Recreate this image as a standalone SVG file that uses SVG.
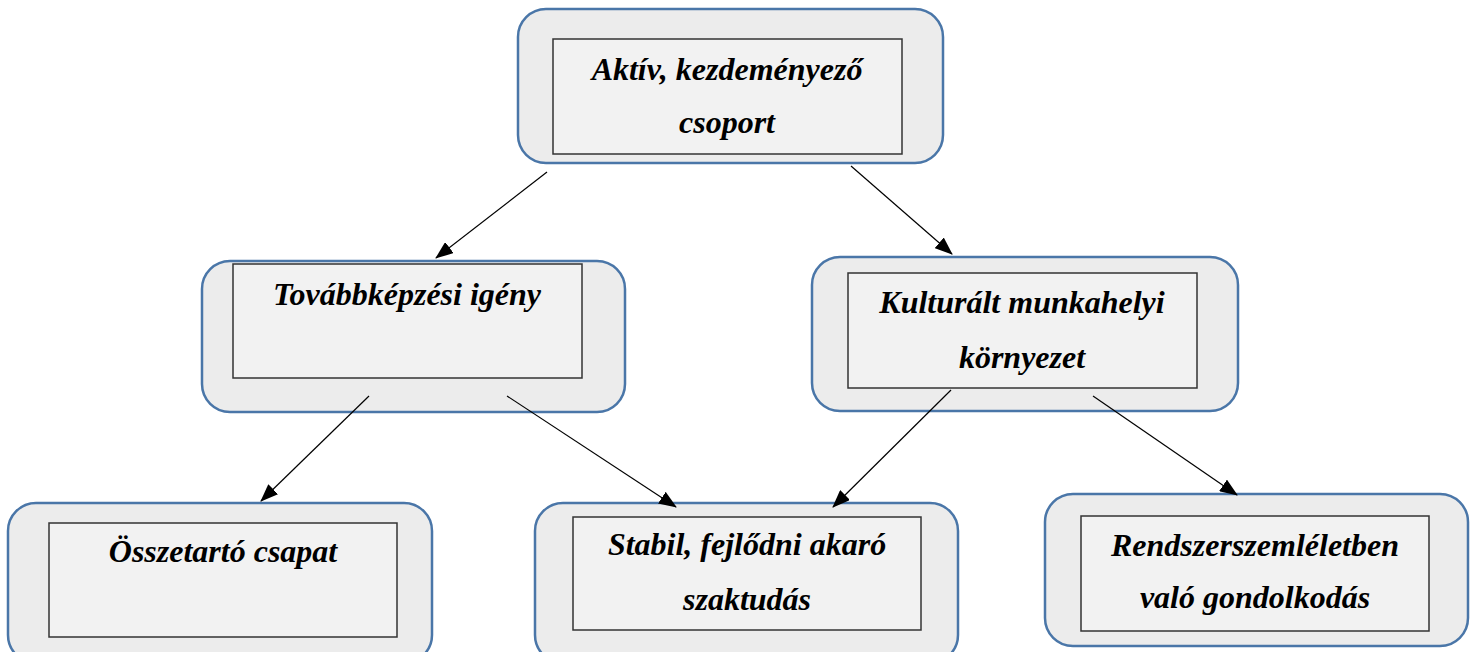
<svg xmlns="http://www.w3.org/2000/svg" width="1478" height="652" viewBox="0 0 1478 652">
<style>
.outer{fill:#ececec;stroke:#4a76a8;stroke-width:2.5}
.inner{fill:#f2f2f2;stroke:#333;stroke-width:1.5}
.t{font-family:"Liberation Serif","DejaVu Serif",serif;font-weight:bold;font-style:italic;font-size:32px;fill:#000;text-anchor:middle}
.c{stroke:#000;stroke-width:1.2;fill:none;marker-end:url(#ah)}
</style>
<defs>
<marker id="ah" markerUnits="userSpaceOnUse" markerWidth="18" markerHeight="14" refX="17" refY="7" orient="auto">
<path d="M0,0 L18,7 L0,14 Z" fill="#000"/>
</marker>
</defs>
<rect width="1478" height="652" fill="#fff"/>
<g id="n-aktiv">
<rect class="outer" x="518" y="9" width="425" height="154" rx="28"/>
<rect class="inner" x="553" y="39" width="349" height="115"/>
<text class="t" x="727" y="80">Aktív, kezdeményező</text>
<text class="t" x="727" y="133">csoport</text>
</g>
<g id="n-tovabbkepzes">
<rect class="outer" x="202" y="261" width="423" height="151" rx="28"/>
<rect class="inner" x="233" y="264" width="349" height="114"/>
<text class="t" x="407" y="305">Továbbképzési igény</text>
</g>
<g id="n-kulturalt">
<rect class="outer" x="812" y="257" width="426" height="154" rx="28"/>
<rect class="inner" x="848" y="273" width="349" height="115"/>
<text class="t" x="1022" y="313">Kulturált munkahelyi</text>
<text class="t" x="1022" y="368">környezet</text>
</g>
<g id="n-osszetarto">
<rect class="outer" x="8" y="503" width="424" height="160" rx="28"/>
<rect class="inner" x="49" y="523" width="348" height="114"/>
<text class="t" x="223" y="562">Összetartó csapat</text>
</g>
<g id="n-stabil">
<rect class="outer" x="535" y="503" width="423" height="160" rx="28"/>
<rect class="inner" x="573" y="517" width="348" height="113"/>
<text class="t" x="747" y="555">Stabil, fejlődni akaró</text>
<text class="t" x="747" y="610">szaktudás</text>
</g>
<g id="n-rendszer">
<rect class="outer" x="1045" y="494" width="423" height="152" rx="28"/>
<rect class="inner" x="1081" y="516" width="348" height="115"/>
<text class="t" x="1255" y="556">Rendszerszemléletben</text>
<text class="t" x="1255" y="608">való gondolkodás</text>
</g>
<g id="connectors">
<line class="c" x1="547" y1="172" x2="436" y2="258"/>
<line class="c" x1="851" y1="166" x2="952" y2="254"/>
<line class="c" x1="369" y1="396" x2="261" y2="501"/>
<line class="c" x1="507" y1="396" x2="676" y2="507"/>
<line class="c" x1="951" y1="390" x2="833" y2="507"/>
<line class="c" x1="1093" y1="396" x2="1237" y2="495"/>
</g>
</svg>
